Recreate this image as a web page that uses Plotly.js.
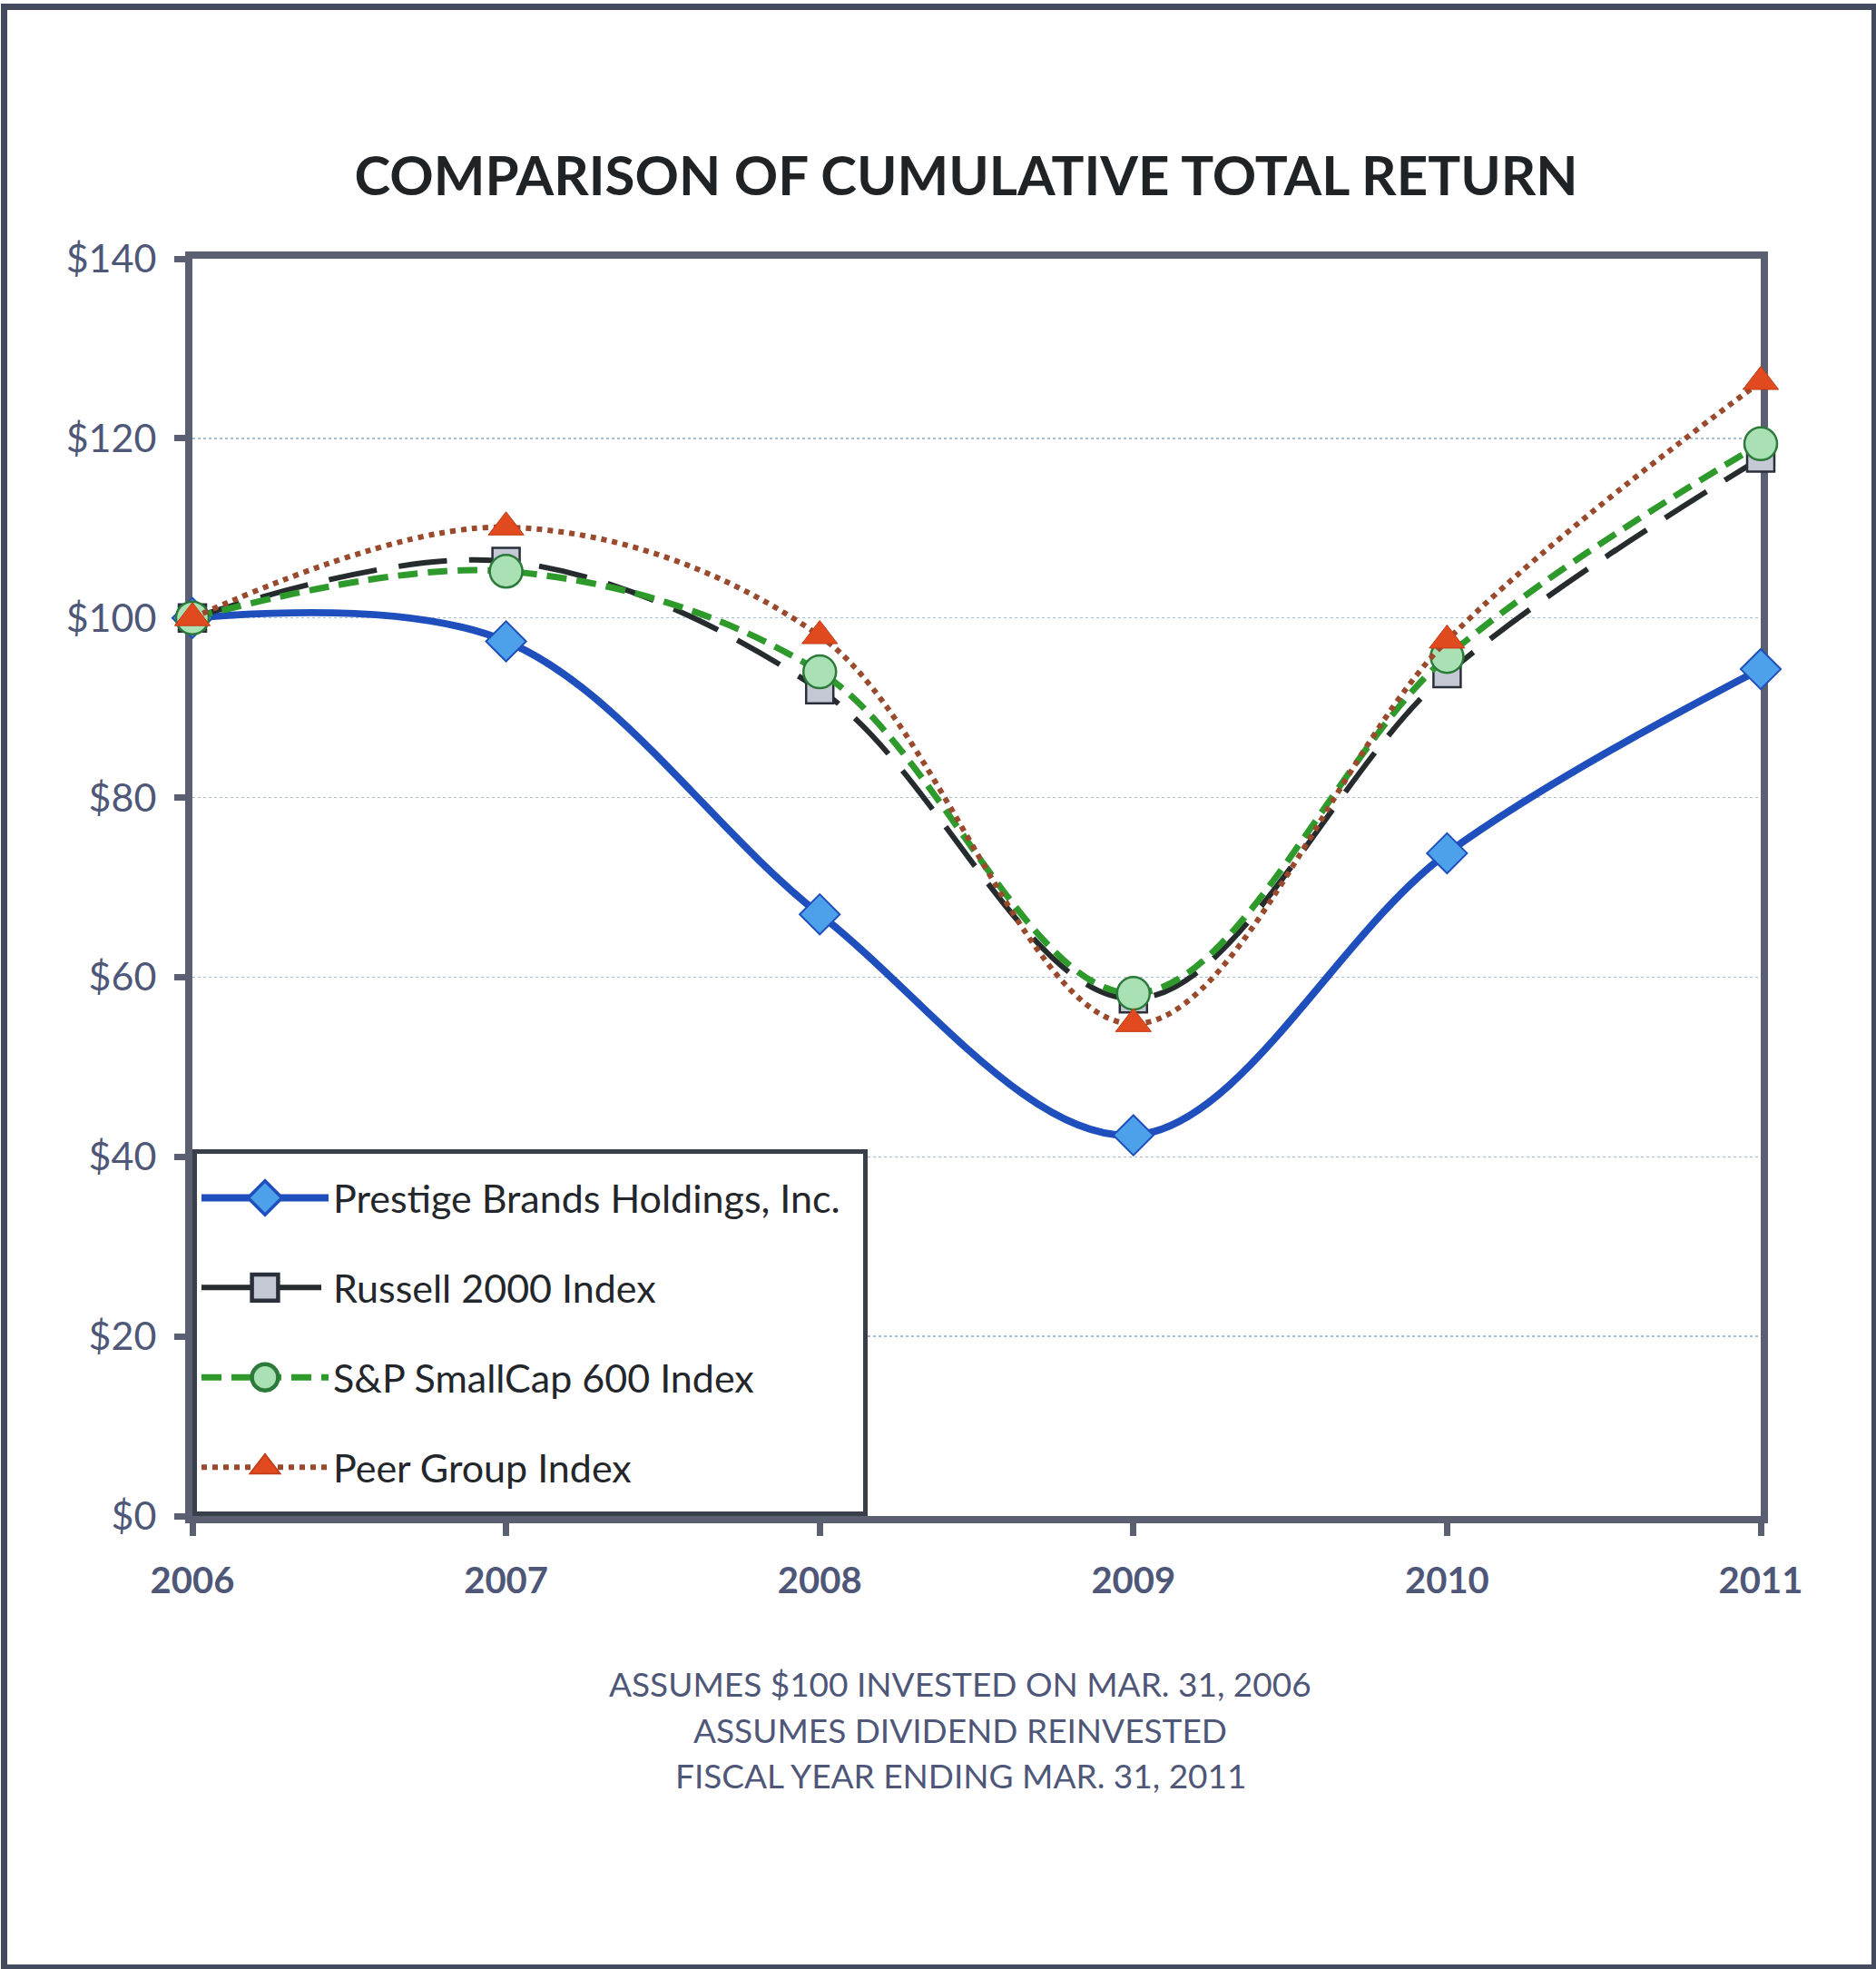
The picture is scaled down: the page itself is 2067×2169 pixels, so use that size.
<!DOCTYPE html>
<html>
<head>
<meta charset="utf-8">
<script src="https://cdn.plot.ly/plotly-3.0.1.min.js"></script>
<style>
  body { margin: 0; background: #fff; }
  #wrap { position: relative; width: 2067px; height: 2169px; }
  #chart { position: absolute; left: 0; top: 0; width: 2067px; height: 2169px; }
  #frame { position: absolute; left: 1px; top: 4px; width: 2054px; height: 2153px;
           border: 7px solid #434a5e; pointer-events: none; }
</style>
</head>
<body>
<div id="wrap">
  <div id="chart"></div>
  <div id="frame"></div>
</div>
<script>
// fiscal years ending Mar. 31
let years = [2006, 2007, 2008, 2009, 2010, 2011];

// cumulative total return, $100 invested on Mar. 31, 2006
let prestige = [100, 97.4, 67.0, 42.4, 73.8, 94.3];
let russell = [100, 106.3, 92.0, 57.6, 93.8, 117.8];
let smallCap = [100, 105.2, 94.0, 58.2, 95.7, 119.4];
let peerGroup = [100, 110.1, 98.0, 54.8, 97.5, 126.3];

let seriesNames = ["Prestige Brands Holdings, Inc.", "Russell 2000 Index", "S&P SmallCap 600 Index", "Peer Group Index"];
let yTicks = [0, 20, 40, 60, 80, 100, 120, 140];
let yTickText = yTicks.map(v => "$" + v);
let footnotes = ["ASSUMES $100 INVESTED ON MAR. 31, 2006", "ASSUMES DIVIDEND REINVESTED", "FISCAL YEAR ENDING MAR. 31, 2011"];

let frameColor = "#5a6072";
let labelColor = "#4f5778";

function makeTrace(values, name, line, marker, group) {
    return {
        x: years,
        y: values,
        name: name,
        type: "scatter",
        mode: "lines+markers",
        line: Object.assign({ shape: "spline", smoothing: 1 }, line),
        marker: marker,
        cliponaxis: false,
        legendgroup: group
    };
}

let traces = [
    makeTrace(prestige, seriesNames[0],
        { color: "#1f4fbd", width: 8 },
        { symbol: "diamond", size: 34, color: "#4da0ea", line: { color: "#1f4fbd", width: 2 } }, "a"),
    makeTrace(russell, seriesNames[1],
        { color: "#262b2e", width: 6, dash: "54px,24px" },
        { symbol: "square", size: 30, color: "#c4c8d4", line: { color: "#2a2f3a", width: 2.5 } }, "b"),
    makeTrace(smallCap, seriesNames[2],
        { color: "#2f9a2c", width: 7, dash: "22px,11px" },
        { symbol: "circle", size: 36, color: "#a9e0b4", line: { color: "#2c7a3a", width: 2.5 } }, "c"),
    makeTrace(peerGroup, seriesNames[3],
        { color: "#9a4a2c", width: 6, dash: "dot" },
        { symbol: "triangle-up", size: 34, color: "#e04a1e", line: { color: "#c23c18", width: 1 } }, "d")
];

// paper coordinates of the plot area, used to place the footnote lines
let plotTop = 285, plotBottom = 1670, plotLeft = 212, plotRight = 1940;
let footY = [1854, 1905, 1955];

let layout = {
    width: 2067,
    height: 2169,
    paper_bgcolor: "rgba(0,0,0,0)",
    plot_bgcolor: "#ffffff",
    margin: { l: plotLeft, r: 2067 - plotRight, t: plotTop, b: 2169 - plotBottom },
    showlegend: true,
    title: {
        text: "<b>COMPARISON OF CUMULATIVE TOTAL RETURN</b>",
        font: { family: "Lato, 'Open Sans', sans-serif", size: 60, color: "#1f2326" },
        xref: "container", x: 0.515, xanchor: "center",
        yref: "container", y: 1 - 194 / 2169, yanchor: "middle"
    },
    xaxis: {
        range: [2006, 2011],
        tickvals: years,
        ticktext: years.map(String),
        showgrid: false,
        zeroline: false,
        showline: true, mirror: true, linecolor: frameColor, linewidth: 8,
        ticks: "outside", ticklen: 14, tickwidth: 7, tickcolor: frameColor,
        ticklabelstandoff: 15,
        tickfont: { family: "Lato, sans-serif", size: 40, color: labelColor, weight: "bold" },
        layer: "below traces"
    },
    yaxis: {
        range: [0, 140],
        tickvals: yTicks,
        ticktext: yTickText,
        showgrid: true, gridcolor: "#a9bdd2", gridwidth: 1.5, griddash: "dot",
        zeroline: false,
        showline: true, mirror: true, linecolor: frameColor, linewidth: 8,
        ticks: "outside", ticklen: 12, tickwidth: 7, tickcolor: frameColor,
        ticklabelstandoff: 11,
        tickfont: { family: "Lato, sans-serif", size: 43, color: labelColor },
        layer: "below traces"
    },
    legend: {
        x: 0, y: 0, xanchor: "left", yanchor: "bottom",
        bgcolor: "#ffffff", bordercolor: "#3a3f4c", borderwidth: 5,
        font: { family: "Lato, sans-serif", size: 43, color: "#23262b" },
        traceorder: "grouped", tracegroupgap: 40,
        itemwidth: 140
    },
    annotations: footnotes.map((t, i) => ({
        text: t,
        xref: "paper", yref: "paper",
        x: (1058 - plotLeft) / (plotRight - plotLeft),
        y: (plotBottom - footY[i]) / (plotBottom - plotTop),
        xanchor: "center", yanchor: "middle",
        showarrow: false,
        font: { family: "Lato, sans-serif", size: 37, color: labelColor }
    }))
};

function parseTranslate(el) {
    let m = /translate\(\s*([-\d.]+)[ ,]+([-\d.]+)\s*\)/.exec(el.getAttribute("transform") || "");
    return m ? [parseFloat(m[1]), parseFloat(m[2])] : [0, 0];
}

Plotly.newPlot("chart", traces, layout, { staticPlot: true, displayModeBar: false })
    .then(gd => {
        // legend symbols in the original are as large as the plotted markers
        gd.querySelectorAll(".legend .legendpoints path.scatterpts").forEach(p => {
            let t = p.getAttribute("transform") || "";
            p.setAttribute("transform", t + " scale(1.8)");
        });

        // the original legend box has more padding round its entries
        let padY = 14, padX = 20;
        let legend = gd.querySelector("g.legend");
        let bg = legend && legend.querySelector("rect.bg");
        let box = legend && legend.querySelector("g.scrollbox");
        if (legend && bg && box) {
            let [lx, ly] = parseTranslate(legend);
            legend.setAttribute("transform", "translate(" + lx + "," + (ly - 2 * padY) + ")");
            bg.setAttribute("height", parseFloat(bg.getAttribute("height")) + 2 * padY);
            bg.setAttribute("width", parseFloat(bg.getAttribute("width")) + padX);
            let [bx, by] = parseTranslate(box);
            box.setAttribute("transform", "translate(" + bx + "," + (by + padY) + ")");
        }
    });
</script>
</body>
</html>
